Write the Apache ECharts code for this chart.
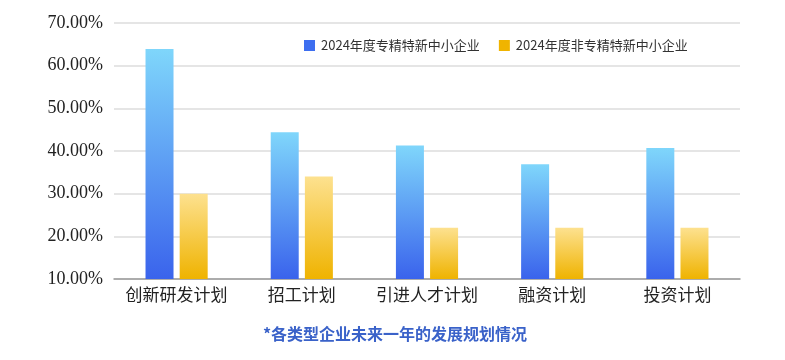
<!DOCTYPE html>
<html><head><meta charset="utf-8">
<script src="https://cdn.jsdelivr.net/npm/echarts@6/dist/echarts.min.js"></script>
<style>html,body{margin:0;padding:0;background:#fff}#c{width:785px;height:360px}</style>
</head><body><div id="c"></div>
<script>
const categories = ['创新研发计划','招工计划','引进人才计划','融资计划','投资计划'];
const seriesNames = ['2024年度专精特新中小企业','2024年度非专精特新中小企业'];
const specialized = [63.9, 44.4, 41.3, 36.9, 40.7];
const nonSpecialized = [30.0, 34.0, 22.0, 22.0, 22.0];
const yTicks = [10, 20, 30, 40, 50, 60, 70];
const footnote = '*各类型企业未来一年的发展规划情况';

const chart = echarts.init(document.getElementById('c'), null, {renderer:'canvas'});
const grad = (top, bottom) => new echarts.graphic.LinearGradient(0,0,0,1,[{offset:0,color:top},{offset:1,color:bottom}]);
chart.setOption({
  backgroundColor:'#ffffff',
  animation:false,
  title:{text:footnote,left:258,top:321,
    textStyle:{color:'#3a62c9',fontSize:16,fontWeight:'bold',fontFamily:'Noto Sans CJK SC'}},
  legend:{top:34,left:299,itemWidth:11,itemHeight:11,itemGap:19,icon:'rect',
    textStyle:{fontSize:13,color:'#333',fontFamily:'Noto Sans CJK SC',padding:[0,0,0,1]},
    data:[{name:seriesNames[0],itemStyle:{color:'#3d6ef0'}},{name:seriesNames[1],itemStyle:{color:'#f0b400'}}]},
  grid:{left:114,right:45,top:23,bottom:81},
  xAxis:{type:'category',data:categories,
    axisLine:{lineStyle:{color:'#999',width:1.5}},axisTick:{show:false},
    axisLabel:{fontSize:17,color:'#222',margin:7,interval:0,fontFamily:'Noto Sans CJK SC'}},
  yAxis:{type:'value',min:yTicks[0],max:yTicks[yTicks.length-1],interval:10,
    axisLine:{show:false},axisTick:{show:false},
    splitLine:{lineStyle:{color:'#dcdcdc',width:1.5}},
    axisLabel:{fontSize:18,color:'#222',margin:11,fontFamily:'Liberation Serif',
      formatter:v=>v.toFixed(2)+'%'}},
  series:[
    {name:seriesNames[0],type:'bar',data:specialized,barWidth:28,barGap:'22%',
      itemStyle:{color:grad('#7fd6fb','#3a63ec')}},
    {name:seriesNames[1],type:'bar',data:nonSpecialized,barWidth:28,
      itemStyle:{color:grad('#fde18f','#efb300')}}
  ]
});
</script></body></html>
